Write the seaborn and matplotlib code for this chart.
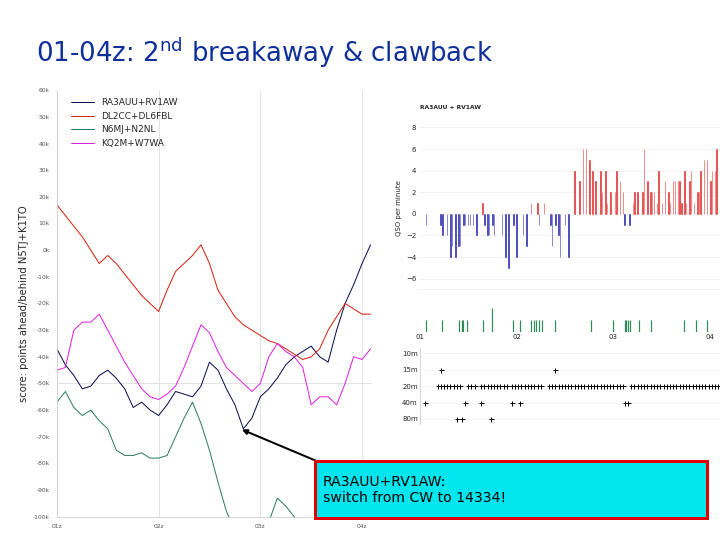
import numpy as np
import matplotlib
matplotlib.use("Agg")
import matplotlib.pyplot as plt
import matplotlib.patches as mpatches
import seaborn as sns

sns.set_style("white")
plt.rcParams["font.family"] = ["DejaVu Sans"]

# --- score difference vs N5TJ+K1TO (k points), every 5 minutes from 01z ---
minutes = list(range(0, 190, 5))
ra3auu = [-37, -43, -47, -52, -51, -47, -45, -48, -52, -59, -57, -60, -62, -58, -53, -54,
          -55, -51, -42, -45, -52, -58, -67, -63, -55, -52, -48, -43, -40, -38, -36, -40,
          -42, -30, -20, -13, -5, 2]
dl2cc = [17, 13, 9, 5, 0, -5, -2, -5, -9, -13, -17, -20, -23, -15, -8, -5,
         -2, 2, -5, -15, -20, -25, -28, -30, -32, -34, -35, -37, -39, -41, -40, -37,
         -30, -25, -20, -22, -24, -24]
n6mj = [-57, -53, -59, -62, -60, -64, -67, -75, -77, -77, -76, -78, -78, -77, -70, -63,
        -57, -65, -75, -87, -98, -105, -115, -120, -110, -102, -93, -96, -100, -103, -110,
        -115, -115, -115, -115, -115, -115, -115]
kq2m = [-45, -44, -30, -27, -27, -24, -30, -36, -42, -47, -52, -55, -56, -54, -51, -44,
        -36, -28, -31, -38, -44, -47, -50, -53, -50, -40, -35, -38, -40, -44, -58, -55,
        -55, -58, -50, -40, -41, -37]
score_ticks = list(range(-100, 61, 10))
time_labels = ["01z", "02z", "03z", "04z"]

# --- RA3AUU+RV1AW QSO rate difference per minute ---
rate_min = [4, 13, 14, 17, 19, 20, 22, 24, 25, 27, 28, 30, 31, 33, 35, 39, 40, 42, 43, 45, 46,
            51, 53, 55, 58, 60, 64, 66, 69, 73, 74, 77, 81, 82, 84, 86, 87, 90, 92,
            96, 99, 101, 103, 105, 107, 109, 112, 113, 115, 116, 118, 121, 122, 124, 126,
            127, 130, 132, 133, 135, 138, 139, 141, 143, 144, 145, 147, 148, 150, 152, 154,
            155, 157, 158, 160, 161, 162, 164, 165, 167, 168, 170, 172, 173, 174, 176, 178,
            180, 181, 183, 184]
rate_val = [-1, -1, -2, -2, -4, -3, -4, -3, -3, -1, -1, -1, -1, -1, -2, 1, -1, -2, -2, -1, -2,
            -2, -4, -5, -1, -4, -2, -3, 1, 1, -1, 1, -1, -3, -1, -2, -4, -1, -4,
            4, 3, 6, 6, 5, 4, 3, 4, 2, 4, 1, 2, 2, 4, 3, 2,
            -1, -1, 1, 2, 2, 2, 6, 3, 2, 2, 2, 1, 4, 1, 3, 2,
            1, 3, 3, 3, 3, 1, 4, 1, 3, 4, 1, 2, 2, 4, 5, 5,
            3, 4, 4, 6]
mult_min = [4, 14, 24, 26, 27, 29, 39, 45, 58, 62, 69, 71, 72, 74, 76, 84, 106, 120, 127,
            128, 129, 130, 136, 143, 164, 171, 178]

bands = ["10m", "15m", "20m", "40m", "80m"]
qso_15 = [13, 84]
qso_40 = [3, 28, 38, 57, 62, 127, 129]
qso_80 = [23, 26, 44]
qso_20 = [11, 13, 15, 17, 19, 21, 23, 25, 30, 32, 34, 38, 40, 42, 44, 46, 48, 50, 52, 54,
          57, 59, 61, 63, 65, 67, 69, 71, 73, 75, 80, 82, 84, 86, 88, 90, 92, 94, 96, 98,
          100, 102, 104, 106, 108, 110, 112, 114, 116, 118, 120, 122, 124, 126, 131, 133,
          135, 137, 139, 141, 143, 145, 147, 149, 151, 153, 155, 157, 159, 161, 163, 165,
          167, 169, 171, 173, 175, 177, 179, 181, 183, 185]

fig = plt.figure(figsize=(10, 7.5), dpi=72)
fig.text(0.05, 0.885, "01-04z: 2$^{\\mathrm{nd}}$ breakaway & clawback",
         fontsize=26, color="#0f2f9a")

# main score chart
ax = fig.add_axes([0.079, 0.043, 0.438, 0.79])
sns.lineplot(x=minutes, y=ra3auu, ax=ax, color="#0b0b50", lw=1, label="RA3AUU+RV1AW")
sns.lineplot(x=minutes, y=dl2cc, ax=ax, color="#d62010", lw=1, label="DL2CC+DL6FBL")
sns.lineplot(x=minutes, y=n6mj, ax=ax, color="#2e7d5a", lw=1, label="N6MJ+N2NL")
sns.lineplot(x=minutes, y=kq2m, ax=ax, color="#e020e0", lw=1, label="KQ2M+W7WA")
ax.set_xlim(0, 186)
ax.set_ylim(-100, 60)
ax.set_xticks([0, 60, 120, 180])
ax.set_xticklabels(time_labels, fontsize=6, color="#555555")
ax.set_yticks(score_ticks)
ax.set_yticklabels([f"{t}k" for t in score_ticks], fontsize=6, color="#555555")
ax.set_ylabel("score: points ahead/behind N5TJ+K1TO", fontsize=10)
for x in [60, 120, 180]:
    ax.axvline(x, color="#dddddd", lw=0.8, zorder=0)
ax.axhline(-50, color="#dddddd", lw=0.8, zorder=0)
for s in ["top", "right"]:
    ax.spines[s].set_visible(False)
ax.spines["left"].set_color("#cccccc")
ax.spines["bottom"].set_color("#cccccc")
ax.legend(loc="upper left", fontsize=9, frameon=False, handlelength=2.5,
          bbox_to_anchor=(0.02, 1.0))

# rate inset
ax2 = fig.add_axes([0.583, 0.434, 0.417, 0.36])
colors = ["#e02020" if v > 0 else "#1a1aa8" for v in rate_val]
ax2.bar(rate_min, rate_val, width=0.35, color=colors, edgecolor=colors, linewidth=0.5)
ax2.set_xlim(0, 186)
ax2.set_ylim(-8.5, 9.5)
ax2.set_yticks([-6, -4, -2, 0, 2, 4, 6, 8])
ax2.tick_params(axis="y", labelsize=7, length=0)
ax2.set_xticks([])
ax2.set_ylabel("QSO per minute", fontsize=7)
ax2.set_title("RA3AUU + RV1AW", fontsize=6, fontweight="bold", loc="left", pad=2)
for y in [-7, -6, -4, -2, 2, 4, 6, 8]:
    ax2.axhline(y, color="#eeeeee", lw=0.6, zorder=0)
sns.despine(ax=ax2, left=True, bottom=True)

# multiplier ticks row
ax3 = fig.add_axes([0.583, 0.385, 0.417, 0.045])
ax3.vlines(mult_min, 0, [2 if m == 45 else 1 for m in mult_min], color="#2e8b57", lw=1.2)
ax3.set_xlim(0, 186)
ax3.set_ylim(0, 2)
ax3.set_yticks([])
ax3.set_xticks([0, 60, 120, 180])
ax3.set_xticklabels(["01", "02", "03", "04"], fontsize=7)
ax3.tick_params(length=0, pad=2)
sns.despine(ax=ax3, left=True, bottom=True)

# band row chart
ax4 = fig.add_axes([0.583, 0.215, 0.417, 0.14])
for i, pts in [(1, qso_15), (2, qso_20), (3, qso_40), (4, qso_80)]:
    ax4.scatter(pts, [i] * len(pts), marker="+", s=25, color="black", lw=1)
ax4.set_xlim(0, 186)
ax4.set_ylim(4.3, -0.3)
ax4.set_yticks(range(5))
ax4.set_yticklabels(bands, fontsize=7)
ax4.set_xticks([])
ax4.tick_params(length=0, pad=2)
for y in range(5):
    ax4.axhline(y, color="#eeeeee", lw=0.6, zorder=0)
sns.despine(ax=ax4, bottom=True, top=True, right=True)
ax4.spines["left"].set_color("#cccccc")

# annotation box
fig.patches.append(mpatches.Rectangle((0.437, 0.04), 0.545, 0.107, transform=fig.transFigure,
                                      fc="#00e5ee", ec="#e00000", lw=3))
fig.text(0.448, 0.093, "RA3AUU+RV1AW:\nswitch from CW to 14334!", fontsize=14,
         va="center", ha="left", linespacing=1.15, color="black")
ax.annotate("", xy=(108, -67), xycoords="data", xytext=(0.442, 0.145),
            textcoords="figure fraction",
            arrowprops=dict(arrowstyle="-|>", color="black", lw=2))

fig.savefig("out.png", dpi=72)
